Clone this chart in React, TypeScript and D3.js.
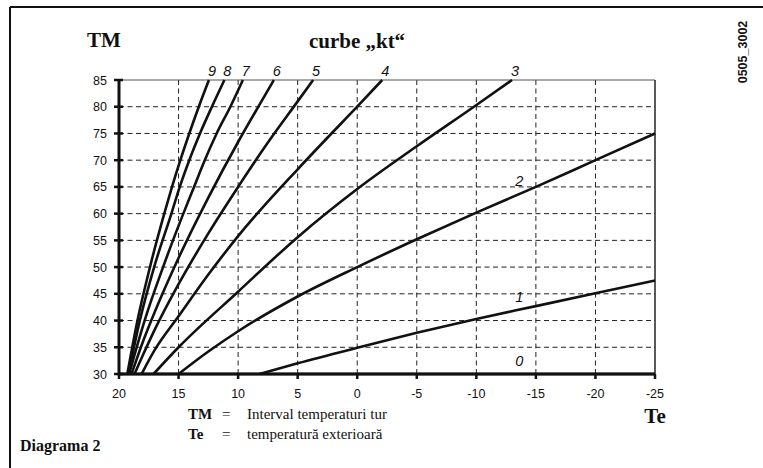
import React from "react";
import * as d3 from "d3";

// ---- data ----
const teTicks = [20, 15, 10, 5, 0, -5, -10, -15, -20, -25];
const tmTicks = [30, 35, 40, 45, 50, 55, 60, 65, 70, 75, 80, 85];

// curve "kt" points: [Te, TM]
const kt0: [number, number][] = [[20, 30], [-25, 30]];
const kt1: [number, number][] = [[8.2, 30], [5, 32], [0, 34.9], [-5, 37.7], [-10, 40.3], [-15, 42.7], [-20, 45.1], [-25, 47.5]];
const kt2: [number, number][] = [[15, 30], [12.5, 34.2], [10, 38], [5, 44.5], [0, 50], [-5, 55.2], [-10, 60.2], [-15, 65], [-20, 70], [-25, 75]];
const kt3: [number, number][] = [[17.1, 30], [15, 35], [10, 45.4], [5, 55.6], [0, 64.6], [-5, 72.6], [-9.8, 80], [-13, 85]];
const kt4: [number, number][] = [[18.1, 30], [17, 34.5], [15, 40.8], [12.5, 48.6], [10, 55.8], [5, 68.3], [2.5, 74.2], [0, 80], [-2.1, 85]];
const kt5: [number, number][] = [[18.7, 30], [18, 33.5], [17, 38.3], [15, 46.8], [12.5, 56.3], [10, 65], [7.5, 73.3], [5, 81], [3.7, 85]];
const kt6: [number, number][] = [[18.95, 30], [18, 36], [17, 41.6], [15, 51.7], [12.5, 63], [10, 73.4], [8.2, 80.4], [7, 85]];
const kt7: [number, number][] = [[19.15, 30], [17.85, 40], [16.3, 50], [14.6, 60], [13.7, 65], [12.8, 70], [11.8, 75], [10.65, 80], [9.6, 85]];
const kt8: [number, number][] = [[19.2, 30], [18.25, 40], [17.05, 50], [15.6, 60], [14.9, 65], [14.1, 70], [13.2, 75], [12.2, 80], [11.15, 85]];
const kt9: [number, number][] = [[19.3, 30], [18.45, 40], [17.4, 50], [16.2, 60], [15.55, 65], [14.85, 70], [14.1, 75], [13.3, 80], [12.45, 85]];

const curveNames = ["0", "1", "2", "3", "4", "5", "6", "7", "8", "9"];
const curveData = [kt0, kt1, kt2, kt3, kt4, kt5, kt6, kt7, kt8, kt9];
// curves 0-2 are labelled on the right, at this Te
const sideLabelTe = -13.6;

export default function App() {
  const W = 763, H = 468;
  const x = d3.scaleLinear().domain([20, -25]).range([119, 655]);
  const y = d3.scaleLinear().domain([30, 85]).range([374, 80]);
  const line = d3
    .line<[number, number]>()
    .x((d) => x(d[0]))
    .y((d) => y(d[1]))
    .curve(d3.curveMonotoneX);

  const serif = "'Liberation Serif', 'Times New Roman', serif";
  const sans = "'Liberation Sans', Arial, sans-serif";

  const interp = (pts: [number, number][], te: number) => {
    const sorted = [...pts].sort((a, b) => a[0] - b[0]);
    for (let i = 0; i < sorted.length - 1; i++) {
      const a = sorted[i], b = sorted[i + 1];
      if (te >= a[0] && te <= b[0]) return a[1] + ((te - a[0]) / (b[0] - a[0])) * (b[1] - a[1]);
    }
    return sorted[0][1];
  };

  return (
    <svg width={W} height={H} style={{ position: "absolute", left: 0, top: 0, background: "#fff" }}>
      {/* outer frame (top and left edges) */}
      <line x1={10} y1={7} x2={W} y2={7} stroke="#111" strokeWidth={2} />
      <line x1={10} y1={7} x2={10} y2={H} stroke="#111" strokeWidth={2} />

      {/* grid */}
      {teTicks.filter((t) => t !== 20 && t !== -25).map((t) => (
        <line key={"gx" + t} x1={x(t)} x2={x(t)} y1={y(85)} y2={y(30)} stroke="#222" strokeWidth={1} strokeDasharray="5,3.5" />
      ))}
      {tmTicks.filter((t) => t !== 30 && t !== 85).map((t) => (
        <line key={"gy" + t} x1={x(20)} x2={x(-25)} y1={y(t)} y2={y(t)} stroke="#222" strokeWidth={1} strokeDasharray="5,3.5" />
      ))}
      {/* top & right borders */}
      <line x1={x(20)} x2={x(-25)} y1={y(85)} y2={y(85)} stroke="#555" strokeWidth={1} />
      <line x1={x(-25)} x2={x(-25)} y1={y(85)} y2={y(30)} stroke="#222" strokeWidth={1.5} />

      {/* curves */}
      {curveData.map((pts, i) => (
        <path key={"c" + i} d={line(pts) || ""} fill="none" stroke="#111" strokeWidth={2.6} strokeLinecap="butt" />
      ))}

      {/* axes */}
      <line x1={x(20)} x2={x(20)} y1={y(85) - 1} y2={y(30) + 1.5} stroke="#111" strokeWidth={3} />
      <line x1={x(20)} x2={x(-25)} y1={y(30)} y2={y(30)} stroke="#111" strokeWidth={3} />
      {tmTicks.map((t) => (
        <g key={"ty" + t}>
          <line x1={x(20) - 5} x2={x(20) + 4} y1={y(t)} y2={y(t)} stroke="#111" strokeWidth={2.5} />
          <text x={107} y={y(t) + 4.5} textAnchor="end" fontFamily={sans} fontSize={12.5} fill="#111">{t}</text>
        </g>
      ))}
      {teTicks.map((t) => (
        <g key={"tx" + t}>
          <line x1={x(t)} x2={x(t)} y1={y(30)} y2={y(30) + 5} stroke="#111" strokeWidth={2.5} />
          <text x={x(t)} y={398} textAnchor="middle" fontFamily={sans} fontSize={12.5} fill="#111">{t}</text>
        </g>
      ))}

      {/* curve labels */}
      {curveData.map((pts, i) => {
        if (i >= 3) {
          const top = pts[pts.length - 1];
          return (
            <text key={"l" + i} x={x(top[0]) + 3} y={76} textAnchor="middle" fontFamily={sans} fontStyle="italic" fontSize={14.5} fill="#111">
              {curveNames[i]}
            </text>
          );
        }
        return (
          <text key={"l" + i} x={x(sideLabelTe)} y={y(interp(pts, sideLabelTe)) - 8} textAnchor="middle" fontFamily={sans} fontStyle="italic" fontSize={14.5} fill="#111">
            {curveNames[i]}
          </text>
        );
      })}

      {/* titles */}
      <text x={87} y={47} fontFamily={serif} fontWeight="bold" fontSize={21} fill="#111">TM</text>
      <text x={357} y={48} textAnchor="middle" fontFamily={serif} fontWeight="bold" fontSize={21} fill="#111">curbe „kt“</text>
      <text x={655} y={423} textAnchor="middle" fontFamily={serif} fontWeight="bold" fontSize={21} fill="#111">Te</text>
      <text transform="translate(747,52) rotate(-90)" textAnchor="middle" fontFamily={sans} fontWeight="bold" fontSize={12.5} fill="#111">0505_3002</text>

      {/* legend */}
      <text x={188} y={419} fontFamily={serif} fontSize={15} fill="#111">
        <tspan fontWeight="bold">TM</tspan>
        <tspan x={222}>=</tspan>
        <tspan x={247}>Interval temperaturi tur</tspan>
      </text>
      <text x={188} y={439} fontFamily={serif} fontSize={15} fill="#111">
        <tspan fontWeight="bold">Te</tspan>
        <tspan x={222}>=</tspan>
        <tspan x={247}>temperatură exterioară</tspan>
      </text>
      <text x={20} y={451} fontFamily={serif} fontWeight="bold" fontSize={16} fill="#111">Diagrama 2</text>
    </svg>
  );
}
